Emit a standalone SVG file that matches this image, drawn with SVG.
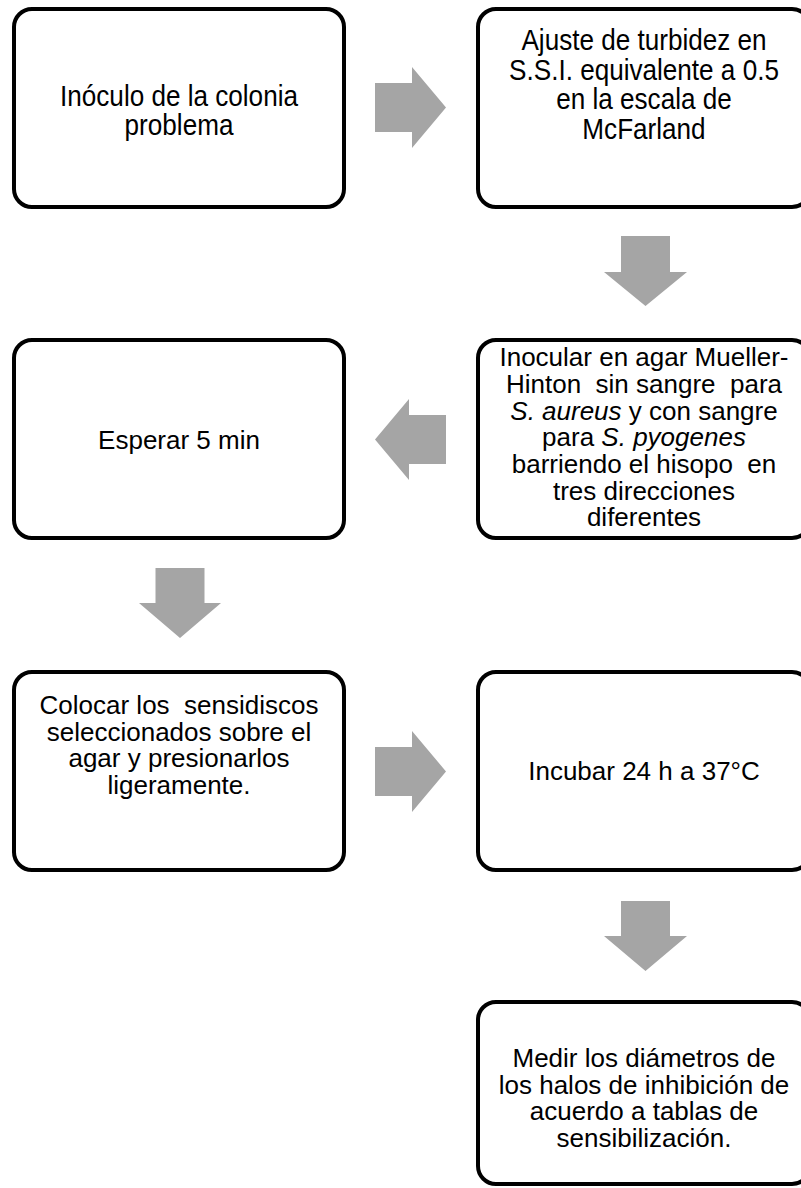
<svg xmlns="http://www.w3.org/2000/svg" width="801" height="1188" viewBox="0 0 801 1188">
<style>
.box{fill:#fff;stroke:#000;stroke-width:4}
.arr{fill:#A5A5A5}
text{font-family:"Liberation Sans",Arial,sans-serif;font-size:26px;fill:#000;text-anchor:middle}
.n{font-size:30px}
</style>
<rect width="801" height="1188" fill="#fff"/>
<g id="connectors">
<polygon class="arr" points="375,83 412,83 412,67 446,107.5 412,148 412,132 375,132"/>
<polygon class="arr" points="621,236 670,236 670,272 687,272 645.5,306 604,272 621,272"/>
<polygon class="arr" points="446,415 409,415 409,399 375,439.5 409,480 409,464 446,464"/>
<polygon class="arr" points="155.5,568 204.5,568 204.5,603 221,603 180,638 139,603 155.5,603"/>
<polygon class="arr" points="375,747 412,747 412,731 446,771.5 412,812 412,796 375,796"/>
<polygon class="arr" points="621,901 670,901 670,936 687,936 645.5,971 604,936 621,936"/>
</g>
<g id="n1">
<rect class="box" x="14" y="9" width="330" height="198" rx="18"/>
<text class="n" transform="translate(179,106) scale(0.87,1)">Inóculo de la colonia</text>
<text class="n" transform="translate(179,135) scale(0.87,1)">problema</text>
</g>
<g id="n2">
<rect class="box" x="478" y="9" width="332" height="198" rx="18"/>
<text class="n" transform="translate(644,50) scale(0.87,1)">Ajuste de turbidez en</text>
<text class="n" transform="translate(644,80) scale(0.87,1)">S.S.I. equivalente a 0.5</text>
<text class="n" transform="translate(644,109) scale(0.87,1)">en la escala de</text>
<text class="n" transform="translate(644,139) scale(0.87,1)">McFarland</text>
</g>
<g id="n3">
<rect class="box" x="14" y="340" width="330" height="198" rx="18"/>
<text x="179" y="449">Esperar 5 min</text>
</g>
<g id="n4">
<rect class="box" x="478" y="340" width="332" height="198" rx="18"/>
<text x="644" y="366">Inocular en agar Mueller-</text>
<text x="644" y="393" xml:space="preserve">Hinton  sin sangre  para</text>
<text x="644" y="420"><tspan font-style="italic">S. aureus</tspan> y con sangre</text>
<text x="644" y="446">para <tspan font-style="italic">S. pyogenes</tspan></text>
<text x="644" y="473" xml:space="preserve">barriendo el hisopo  en</text>
<text x="644" y="500">tres direcciones</text>
<text x="644" y="526">diferentes</text>
</g>
<g id="n5">
<rect class="box" x="14" y="672" width="330" height="198" rx="18"/>
<text x="179" y="714" xml:space="preserve">Colocar los  sensidiscos</text>
<text x="179" y="741">seleccionados sobre el</text>
<text x="179" y="767">agar y presionarlos</text>
<text x="179" y="794">ligeramente.</text>
</g>
<g id="n6">
<rect class="box" x="478" y="672" width="332" height="198" rx="18"/>
<text x="644" y="780">Incubar 24 h a 37°C</text>
</g>
<g id="n7">
<rect class="box" x="478" y="1002" width="332" height="182" rx="18"/>
<text x="644" y="1067">Medir los diámetros de</text>
<text x="644" y="1094">los halos de inhibición de</text>
<text x="644" y="1120">acuerdo a tablas de</text>
<text x="644" y="1147">sensibilización.</text>
</g>
</svg>
